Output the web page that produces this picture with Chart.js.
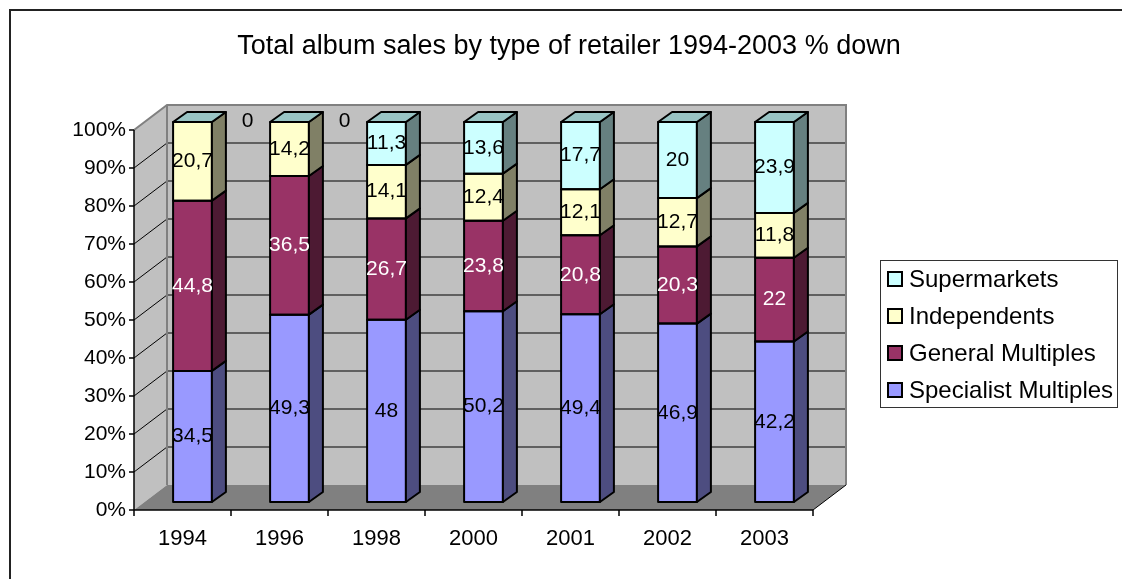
<!DOCTYPE html>
<html>
<head>
<meta charset="utf-8">
<script src="https://cdn.jsdelivr.net/npm/chart.js@4.4.0/dist/chart.umd.min.js"></script>
<style>
  html, body { margin: 0; padding: 0; background: #fff; }
  #wrap { width: 1122px; height: 579px; }
</style>
</head>
<body>
<div id="wrap"><canvas id="albumChart" width="1122" height="579"></canvas></div>
<script>
// Album sales share by retailer type (values as published, % of total)
const years = ['1994', '1996', '1998', '2000', '2001', '2002', '2003'];
const specialist = [34.5, 49.3, 48, 50.2, 49.4, 46.9, 42.2];
const general = [44.8, 36.5, 26.7, 23.8, 20.8, 20.3, 22];
const independents = [20.7, 14.2, 14.1, 12.4, 12.1, 12.7, 11.8];
const supermarkets = [0, 0, 11.3, 13.6, 17.7, 20, 23.9];
const yTicks = [0, 10, 20, 30, 40, 50, 60, 70, 80, 90, 100];

const series = [
    { label: 'Specialist Multiples', values: specialist, front: '#9999ff', side: '#4d4d80', top: '#7373bf', text: '#000' },
    { label: 'General Multiples', values: general, front: '#993366', side: '#4d1a33', top: '#73264d', text: '#fff' },
    { label: 'Independents', values: independents, front: '#ffffcc', side: '#808066', top: '#bfbf99', text: '#000' },
    { label: 'Supermarkets', values: supermarkets, front: '#ccffff', side: '#668080', top: '#99c4c4', text: '#000' }
];

// 100% stacked: each column is scaled to its own total
const totals = years.map((_, i) => series.reduce((s, ser) => s + ser.values[i], 0));
const toPct = vals => vals.map((v, i) => v / totals[i] * 100);

const FONT = '"Liberation Sans", Arial, sans-serif';
const BOX_DEPTH = { dx: 33, dy: -25 };   // depth of the walls / floor
const BAR_SHIFT = { dx: 10, dy: -8 };    // bar front face sits behind the front plane
const BAR_DEPTH = { dx: 14, dy: -10 };   // thickness of each column

function poly(ctx, pts) {
    ctx.beginPath();
    ctx.moveTo(pts[0][0], pts[0][1]);
    for (let k = 1; k < pts.length; k++) ctx.lineTo(pts[k][0], pts[k][1]);
    ctx.closePath();
}

const fmt = v => String(v).replace('.', ',');

const box3d = {
    id: 'box3d',
    beforeDraw(chart) {
        const ctx = chart.ctx;
        ctx.save();
        ctx.fillStyle = '#fff';
        ctx.fillRect(0, 0, chart.width, chart.height);
        ctx.strokeStyle = '#222';
        ctx.lineWidth = 2;
        ctx.strokeRect(10, 10, chart.width + 50, chart.height + 50);

        // title
        ctx.fillStyle = '#000';
        ctx.font = '27px ' + FONT;
        ctx.textAlign = 'center';
        ctx.textBaseline = 'middle';
        ctx.fillText('Total album sales by type of retailer 1994-2003 % down', 569, 47);
        ctx.restore();
    },
    beforeDatasetsDraw(chart) {
        const { ctx, chartArea: a, scales: { x, y } } = chart;
        const n = years.length;
        const fx0 = a.left - BAR_SHIFT.dx, fx1 = a.right - BAR_SHIFT.dx;
        const fy = v => y.getPixelForValue(v) - BAR_SHIFT.dy;
        const bx0 = fx0 + BOX_DEPTH.dx, bx1 = fx1 + BOX_DEPTH.dx;
        const by = v => fy(v) + BOX_DEPTH.dy;

        ctx.save();
        // back wall, side wall, floor
        ctx.fillStyle = '#c0c0c0';
        ctx.fillRect(bx0, by(100), bx1 - bx0, by(0) - by(100));
        poly(ctx, [[fx0, fy(100)], [bx0, by(100)], [bx0, by(0)], [fx0, fy(0)]]);
        ctx.fill();
        ctx.fillStyle = '#808080';
        poly(ctx, [[fx0, fy(0)], [bx0, by(0)], [bx1, by(0)], [fx1, fy(0)]]);
        ctx.fill();

        // gridlines
        ctx.strokeStyle = '#000';
        ctx.lineWidth = 1;
        yTicks.forEach(v => {
            if (v === 0 || v === 100) return;
            ctx.beginPath();
            ctx.moveTo(fx0, fy(v));
            ctx.lineTo(bx0, by(v));
            ctx.lineTo(bx1, by(v));
            ctx.stroke();
        });

        // wall edges
        ctx.strokeStyle = '#808080';
        ctx.lineWidth = 2;
        ctx.beginPath();
        ctx.moveTo(fx0, fy(100));
        ctx.lineTo(bx0, by(100));
        ctx.lineTo(bx1, by(100));
        ctx.lineTo(bx1, by(0));
        ctx.moveTo(bx0, by(100));
        ctx.lineTo(bx0, by(0));
        ctx.stroke();

        ctx.strokeStyle = '#000';
        ctx.lineWidth = 1;
        ctx.beginPath();
        ctx.moveTo(fx1, fy(0));
        ctx.lineTo(bx1, by(0));
        ctx.stroke();

        // value axis
        ctx.lineWidth = 1.5;
        ctx.beginPath();
        ctx.moveTo(fx0, fy(100));
        ctx.lineTo(fx0, fy(0));
        ctx.lineTo(fx1, fy(0));
        yTicks.forEach(v => {
            ctx.moveTo(fx0 - 5, fy(v));
            ctx.lineTo(fx0, fy(v));
        });
        const catW = (fx1 - fx0) / n;
        for (let i = 0; i <= n; i++) {
            ctx.moveTo(fx0 + i * catW, fy(0));
            ctx.lineTo(fx0 + i * catW, fy(0) + 6);
        }
        ctx.stroke();

        ctx.fillStyle = '#000';
        ctx.font = '21px ' + FONT;
        ctx.textAlign = 'right';
        ctx.textBaseline = 'middle';
        yTicks.forEach(v => ctx.fillText(v + '%', fx0 - 8, fy(v)));
        ctx.font = '22px ' + FONT;
        ctx.textAlign = 'center';
        years.forEach((yr, i) => ctx.fillText(yr, x.getPixelForValue(i) - BAR_SHIFT.dx, 539));
        ctx.restore();
    },
    afterDatasetsDraw(chart) {
        const ctx = chart.ctx;
        ctx.save();
        ctx.lineJoin = 'round';
        ctx.strokeStyle = '#000';
        ctx.lineWidth = 2;
        years.forEach((_, i) => {
            let last = null;
            series.forEach((ser, d) => {
                const el = chart.getDatasetMeta(d).data[i];
                const { x: cx, y: yt, base: yb, width: w } = el.getProps(['x', 'y', 'base', 'width'], true);
                const x0 = cx - w / 2, x1 = cx + w / 2;
                if (yb - yt > 0.5) {
                    // outline of the front face
                    ctx.strokeRect(x0, yt, w, yb - yt);
                    poly(ctx, [[x1, yt], [x1 + BAR_DEPTH.dx, yt + BAR_DEPTH.dy],
                        [x1 + BAR_DEPTH.dx, yb + BAR_DEPTH.dy], [x1, yb]]);
                    ctx.fillStyle = ser.side;
                    ctx.fill();
                    ctx.stroke();
                }
                last = { x0, x1, yt, ser };
            });
            poly(ctx, [[last.x0, last.yt], [last.x0 + BAR_DEPTH.dx, last.yt + BAR_DEPTH.dy],
                [last.x1 + BAR_DEPTH.dx, last.yt + BAR_DEPTH.dy], [last.x1, last.yt]]);
            ctx.fillStyle = last.ser.top;
            ctx.fill();
            ctx.stroke();
        });

        // data labels
        ctx.font = '21px ' + FONT;
        ctx.textAlign = 'center';
        ctx.textBaseline = 'middle';
        series.forEach((ser, d) => {
            chart.getDatasetMeta(d).data.forEach((el, i) => {
                const v = ser.values[i];
                const { x: cx, y: yt, base: yb } = el.getProps(['x', 'y', 'base'], true);
                if (v === 0) {
                    ctx.fillStyle = '#000';
                    ctx.fillText('0', cx + 55, yt - 1);
                } else {
                    ctx.fillStyle = ser.text;
                    ctx.fillText(fmt(v), cx, (yt + yb) / 2);
                }
            });
        });
        ctx.restore();
    },
    afterDraw(chart) {
        const ctx = chart.ctx;
        ctx.save();
        // legend box
        ctx.fillStyle = '#fff';
        ctx.fillRect(880, 260, 238, 148);
        ctx.strokeStyle = '#333';
        ctx.lineWidth = 1;
        ctx.strokeRect(880.5, 260.5, 237, 147);
        ctx.font = '24px ' + FONT;
        ctx.textAlign = 'left';
        ctx.textBaseline = 'middle';
        series.slice().reverse().forEach((ser, k) => {
            const cy = 279 + k * 37;
            ctx.fillStyle = ser.front;
            ctx.fillRect(888, cy - 7, 14, 14);
            ctx.lineWidth = 2;
            ctx.strokeStyle = '#000';
            ctx.strokeRect(888, cy - 7, 14, 14);
            ctx.fillStyle = '#000';
            ctx.fillText(ser.label, 909, cy + 1);
        });
        ctx.restore();
    }
};

new Chart(document.getElementById('albumChart'), {
    type: 'bar',
    data: {
        labels: years,
        datasets: series.map(ser => ({
            label: ser.label,
            data: toPct(ser.values),
            backgroundColor: ser.front,
            borderWidth: 0,
            categoryPercentage: 1,
            barPercentage: 0.40
        }))
    },
    options: {
        responsive: false,
        animation: false,
        devicePixelRatio: 1,
        layout: { padding: { left: 144, right: 299, top: 122, bottom: 77 } },
        plugins: {
            legend: { display: false },
            tooltip: { enabled: false }
        },
        scales: {
            x: { stacked: true, display: false },
            y: { stacked: true, display: false, min: 0, max: 100, ticks: { stepSize: 10 } }
        }
    },
    plugins: [box3d]
});
</script>
</body>
</html>
